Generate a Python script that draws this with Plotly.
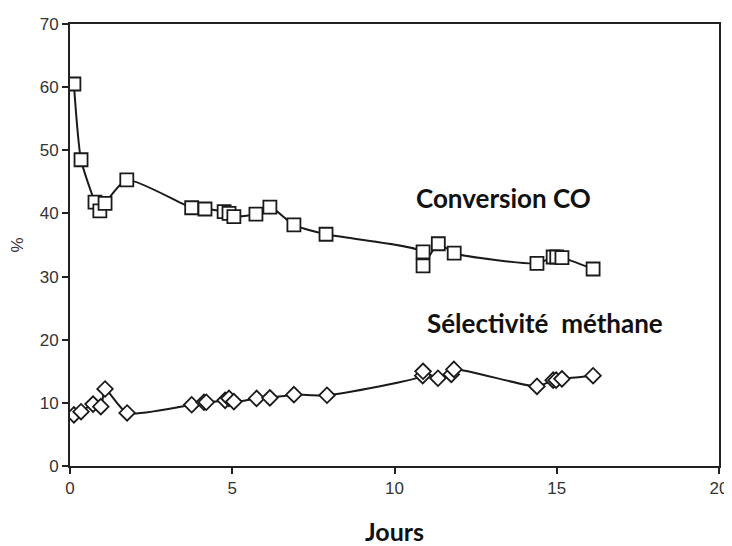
import plotly.graph_objects as go

# Conversion CO (squares)
conv_x = [0.12, 0.34, 0.77, 0.92, 1.08, 1.75, 3.75, 4.16, 4.75, 4.9, 5.05, 5.73, 6.16, 6.9, 7.89,
          10.88, 10.88, 11.35, 11.84, 14.39, 14.89, 15.0, 15.16, 16.12]
conv_y = [60.5, 48.5, 41.8, 40.4, 41.6, 45.3, 40.9, 40.7, 40.3, 40.0, 39.5, 39.9, 41.0, 38.2, 36.7,
          33.9, 31.7, 35.2, 33.7, 32.1, 33.1, 33.1, 33.0, 31.2]

# Sélectivité méthane (diamonds)
sel_x = [0.12, 0.34, 0.71, 0.95, 1.08, 1.76, 3.75, 4.13, 4.2, 4.78, 4.9, 5.05, 5.75, 6.16, 6.9, 7.92,
         10.87, 10.88, 11.34, 11.75, 11.83, 14.39, 14.89, 14.98, 15.16, 16.12]
sel_y = [8.1, 8.6, 9.8, 9.4, 12.2, 8.4, 9.7, 10.1, 10.1, 10.4, 10.7, 10.2, 10.7, 10.8, 11.3, 11.2,
         14.3, 15.0, 13.9, 14.5, 15.3, 12.6, 13.6, 13.6, 13.8, 14.3]

x_ticks = [0, 5, 10, 15, 20]
y_ticks = [0, 10, 20, 30, 40, 50, 60, 70]

fig = go.Figure()
fig.add_trace(go.Scatter(
    x=conv_x, y=conv_y, mode="lines+markers",
    line=dict(color="#1a1a1a", width=2, shape="spline", smoothing=0.6),
    marker=dict(symbol="square", size=13, color="white", line=dict(color="#1a1a1a", width=1.8)),
    showlegend=False))
fig.add_trace(go.Scatter(
    x=sel_x, y=sel_y, mode="lines+markers",
    line=dict(color="#1a1a1a", width=2, shape="spline", smoothing=0.6),
    marker=dict(symbol="diamond", size=12, color="white", line=dict(color="#1a1a1a", width=1.8)),
    showlegend=False))

fig.add_annotation(x=13.35, y=42.4, text="<b>Conversion CO</b>", showarrow=False,
                   xanchor="center", yanchor="middle",
                   font=dict(family="Lato", size=26, color="#111"))
fig.add_annotation(x=14.65, y=22.7, text="<b>Sélectivité  méthane</b>", showarrow=False,
                   xanchor="center", yanchor="middle",
                   font=dict(family="Lato", size=26, color="#111"))

fig.update_layout(
    width=724, height=538,
    margin=dict(l=62, r=13, t=16, b=80),
    paper_bgcolor="white", plot_bgcolor="white",
    font=dict(family="Liberation Sans, Arial", size=17, color="#333"),
)
fig.update_xaxes(range=[0, 20], tickvals=x_ticks, ticks="outside", ticklen=6, tickwidth=2,
                 tickcolor="#222", showgrid=False, zeroline=False, showline=True,
                 linecolor="#222", linewidth=2, mirror=True, automargin=False,
                 title=dict(text="<b>Jours</b>", font=dict(family="Lato", size=25, color="#111"),
                            standoff=31))
fig.update_yaxes(range=[0, 70], tickvals=y_ticks, ticks="outside", ticklen=6, tickwidth=2,
                 tickcolor="#222", showgrid=False, zeroline=False, showline=True,
                 linecolor="#222", linewidth=2, mirror=True, automargin=False,
                 title=dict(text="%", font=dict(family="Liberation Sans, Arial", size=17, color="#333"),
                            standoff=26))

fig.write_html("out.html")
